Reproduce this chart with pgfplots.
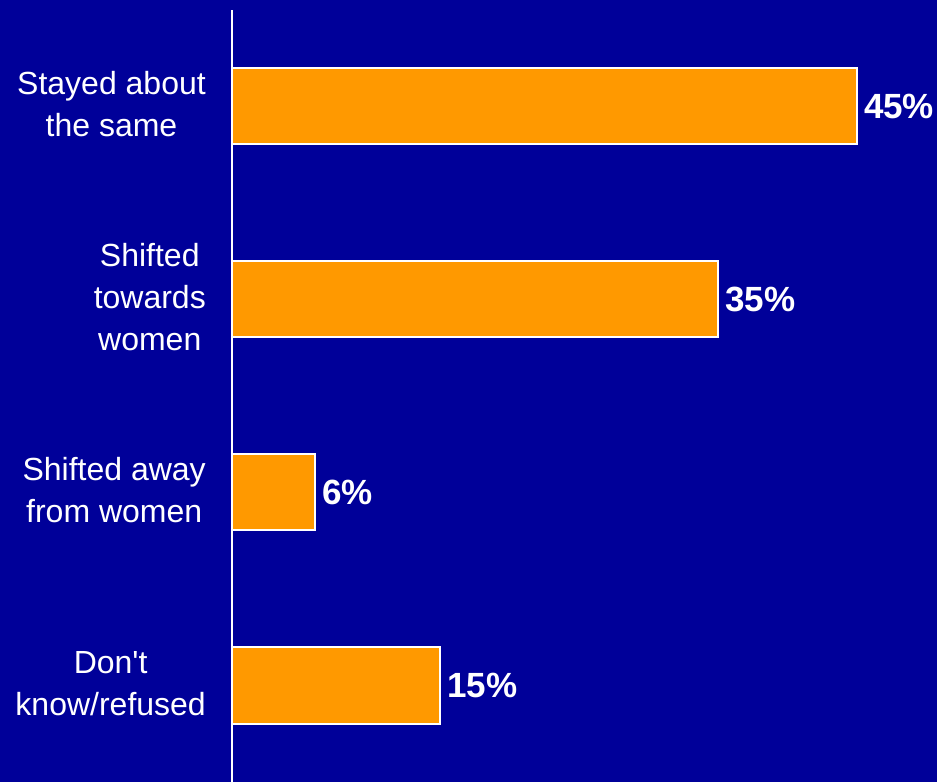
\documentclass[border=0pt]{standalone}
\usepackage{fontspec}
\setmainfont{Liberation Sans}
\usepackage{pgfplots}
\pgfplotsset{compat=1.18}
\definecolor{bg}{HTML}{000099}
\definecolor{barorange}{HTML}{FF9900}
\begin{document}
\begin{tikzpicture}
\fill[bg] (0,0) rectangle (937pt,782pt);
\begin{axis}[
  at={(232pt,0pt)}, anchor=south west,
  scale only axis, width=694.5pt, height=772pt,
  xmin=0, xmax=50, ymin=-0.5, ymax=3.5,
  xbar, bar width=76pt,
  axis x line=none, axis y line*=left,
  y axis line style={white, line width=1.5pt},
  ytick={0,1,2,3},
  yticklabels={{Don\textquotesingle t\\know/refused},{Shifted away\\from women},{Shifted\\towards\\women},{Stayed about\\the same}},
  major tick length=0pt,
  yticklabel style={font=\fontsize{32}{42}\selectfont, text=white, align=center, inner sep=0pt, xshift=-26pt, yshift=2pt},
  point meta=x,
  nodes near coords={\pgfmathprintnumber[assume math mode=true]{\pgfplotspointmeta}\%},
  nodes near coords style={font=\bfseries\fontsize{35}{40}\selectfont, text=white, anchor=west, inner sep=0pt, xshift=6pt},
  clip=false,
]
\addplot[fill=barorange, draw=white, line width=2pt] coordinates {(15,0) (6,1) (35,2) (45,3)};
\end{axis}
\pgfresetboundingbox
\path[use as bounding box] (0,0) rectangle (937pt,782pt);
\end{tikzpicture}
\end{document}
